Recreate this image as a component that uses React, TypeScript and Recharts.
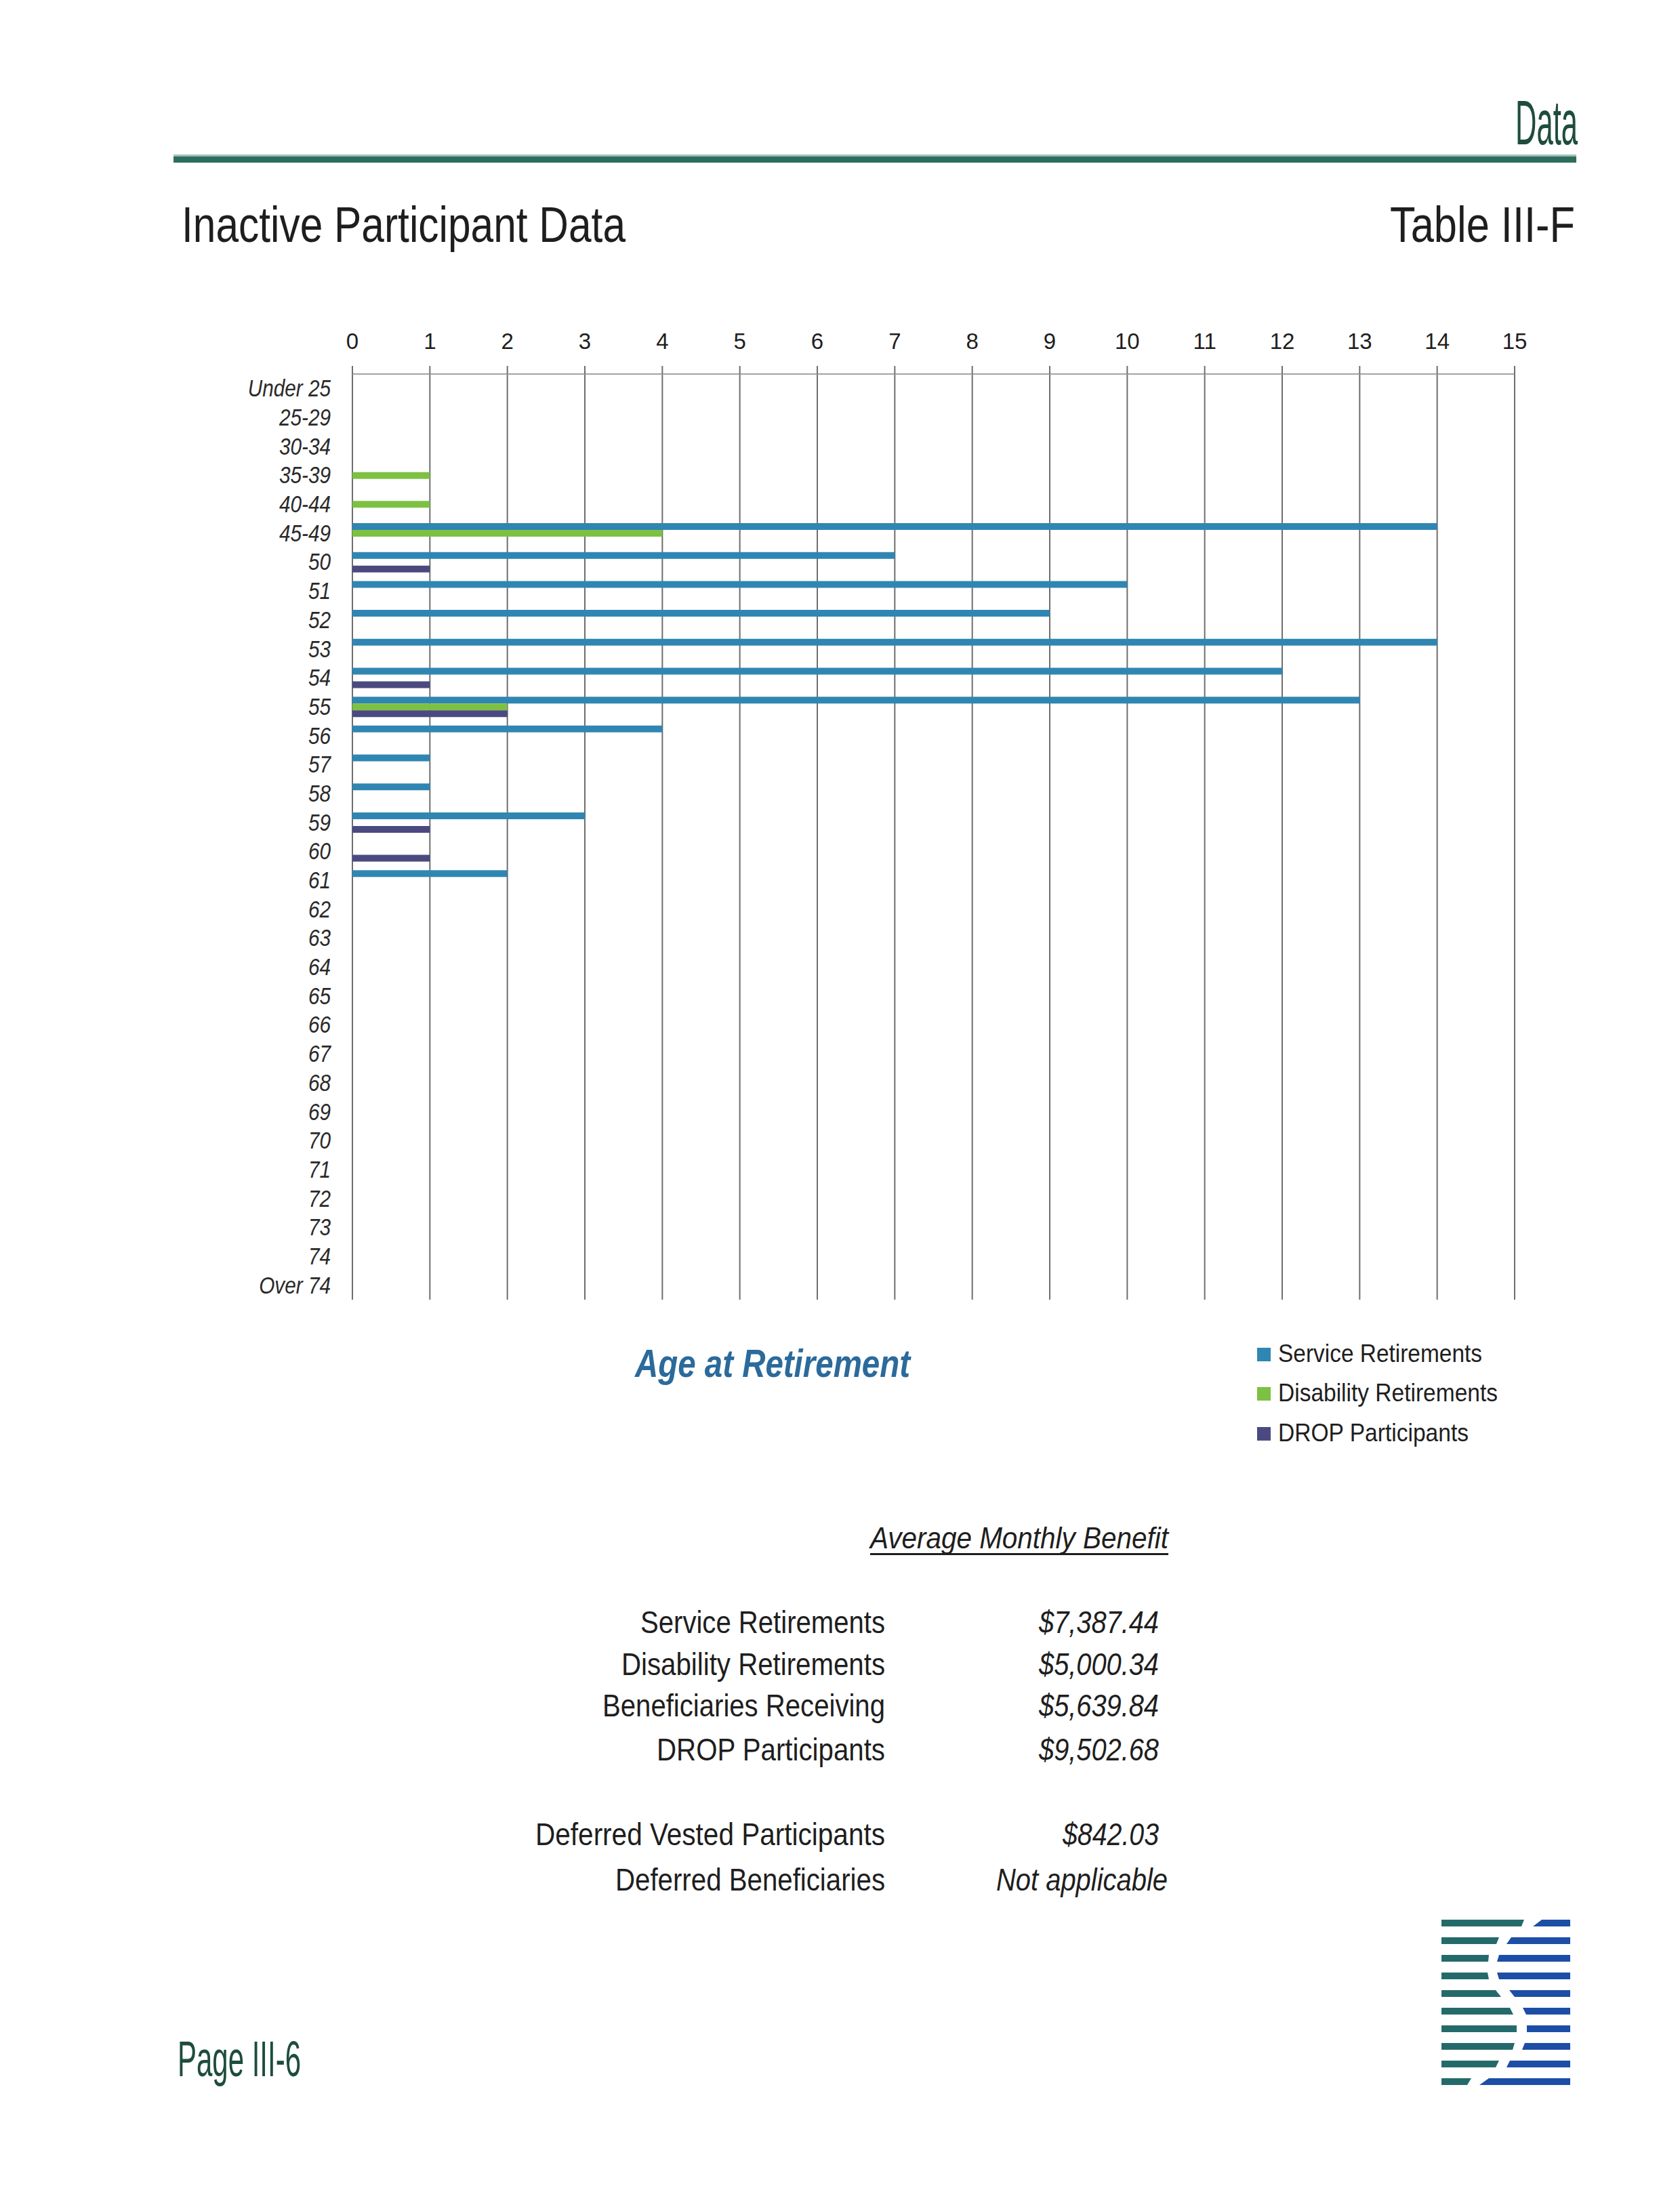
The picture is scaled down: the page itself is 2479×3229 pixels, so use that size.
import React from 'react';
import { BarChart, Bar, XAxis, YAxis, CartesianGrid } from 'recharts';

const ageGroups = [
  'Under 25', '25-29', '30-34', '35-39', '40-44', '45-49',
  '50', '51', '52', '53', '54', '55', '56', '57', '58', '59',
  '60', '61', '62', '63', '64', '65', '66', '67', '68', '69',
  '70', '71', '72', '73', '74', 'Over 74',
];
const serviceRetirements = [0, 0, 0, 0, 0, 14, 7, 10, 9, 14, 12, 13, 4, 1, 1, 3, 0, 2, 0, 0, 0, 0, 0, 0, 0, 0, 0, 0, 0, 0, 0, 0];
const disabilityRetirements = [0, 0, 0, 1, 1, 4, 0, 0, 0, 0, 0, 2, 0, 0, 0, 0, 0, 0, 0, 0, 0, 0, 0, 0, 0, 0, 0, 0, 0, 0, 0, 0];
const dropParticipants = [0, 0, 0, 0, 0, 0, 1, 0, 0, 0, 1, 2, 0, 0, 0, 1, 1, 0, 0, 0, 0, 0, 0, 0, 0, 0, 0, 0, 0, 0, 0, 0];
const xTicks = [0, 1, 2, 3, 4, 5, 6, 7, 8, 9, 10, 11, 12, 13, 14, 15];

const seriesNames = ['Service Retirements', 'Disability Retirements', 'DROP Participants'];
const seriesKeys = ['service', 'disability', 'drop'];

const benefitLabels = ['Service Retirements', 'Disability Retirements', 'Beneficiaries Receiving', 'DROP Participants'];
const benefitValues = ['$7,387.44', '$5,000.34', '$5,639.84', '$9,502.68'];
const deferredLabels = ['Deferred Vested Participants', 'Deferred Beneficiaries'];
const deferredValues = ['$842.03', 'Not applicable'];

const data = ageGroups.map((age, i) => ({
  age,
  service: serviceRetirements[i],
  disability: disabilityRetirements[i],
  drop: dropParticipants[i],
}));

// ---- styling / layout (kept apart from the data) ----
const SANS = "'Liberation Sans', Arial, sans-serif";
const seriesColors = ['#2f86b2', '#7dc143', '#4b4a80'];
const legendLayout = { x: 1886, y: [2010, 2068, 2127], len: [301, 324, 281] };
const benefitLayout = { labelRight: 1306, y: [2410, 2472, 2533, 2598], labelLen: [361, 389, 417, 337], valueRight: 1710, valueLen: [177, 177, 177, 177] };
const deferredLayout = { y: [2723, 2790], labelLen: [516, 398], valueRight: [1710, 1723], valueLen: [142, 253] };
// logo stripes: [tealEndTop, tealEndBottom, blueStartTop, blueStartBottom]
const logoStripes = [
  [2249, 2245, 2275, 2262], [2212, 2208, 2230, 2223], [2197, 2196, 2212, 2209], [2195, 2197, 2209, 2212],
  [2207, 2215, 2227, 2235], [2228, 2233, 2247, 2252], [2238, 2238, 2253, 2253], [2235, 2232, 2250, 2246],
  [2212, 2207, 2228, 2223], [2171, 2165, 2197, 2183],
];

const XTick = (props: any) => {
  const { x, y, payload } = props;
  return (
    <text x={x} y={y} textAnchor="middle" fontFamily={SANS} fontSize={33} fill="#1e1e1e">
      {payload.value}
    </text>
  );
};

const YTick = (props: any) => {
  const { x, y, payload } = props;
  return (
    <text
      transform={`translate(${x},${y + 12}) scale(0.85,1)`}
      textAnchor="end"
      fontFamily={SANS}
      fontSize={35}
      fontStyle="italic"
      fill="#2a2a2a"
    >
      {payload.value}
    </text>
  );
};

export default function App() {
  return (
    <div style={{ position: 'absolute', left: 0, top: 0, width: 2479, height: 3229, background: '#fff' }}>
      <div style={{ position: 'absolute', left: 0, top: 0 }}>
        <BarChart
          layout="vertical"
          width={2479}
          height={2000}
          data={data}
          margin={{ top: 452, right: 244, bottom: 82, left: 0 }}
          barCategoryGap="15.5%"
          barGap={0}
        >
          <CartesianGrid horizontal={false} vertical stroke="#6e6e6e" strokeWidth={2} />
          <XAxis
            type="number"
            orientation="top"
            domain={[0, 15]}
            ticks={xTicks}
            interval={0}
            height={100}
            tickSize={12}
            tickMargin={25}
            axisLine={{ stroke: '#a3a3a3', strokeWidth: 2 }}
            tickLine={{ stroke: '#6e6e6e', strokeWidth: 2 }}
            tick={<XTick />}
          />
          <YAxis
            type="category"
            dataKey="age"
            width={520}
            interval={0}
            axisLine={false}
            tickLine={false}
            tickSize={0}
            tickMargin={32}
            tick={<YTick />}
          />
          {seriesKeys.map((k, i) => (
            <Bar key={k} dataKey={k} name={seriesNames[i]} fill={seriesColors[i]} isAnimationActive={false} />
          ))}
        </BarChart>
      </div>
      <svg
        width={2479}
        height={3229}
        style={{ position: 'absolute', left: 0, top: 0, pointerEvents: 'none' }}
      >
        {/* header */}
        <text x={2236} y={213} fontFamily={SANS} fontSize={92} fill="#1e4d3c" textLength={92} lengthAdjust="spacingAndGlyphs">
          Data
        </text>
        <rect x={256} y={228} width={2070} height={3} fill="#9fbfb4" />
        <rect x={256} y={231} width={2070} height={9} fill="#2e6d5e" />
        <text x={268} y={357} fontFamily={SANS} fontSize={74} fill="#1e1e1e" textLength={655} lengthAdjust="spacingAndGlyphs">
          Inactive Participant Data
        </text>
        <text x={2051} y={357} fontFamily={SANS} fontSize={74} fill="#1e1e1e" textLength={273} lengthAdjust="spacingAndGlyphs">
          Table III-F
        </text>

        {/* axis title */}
        <text
          x={937}
          y={2032}
          fontFamily={SANS}
          fontSize={58}
          fontWeight="bold"
          fontStyle="italic"
          fill="#2b6a9b"
          textLength={406}
          lengthAdjust="spacingAndGlyphs"
        >
          Age at Retirement
        </text>

        {/* legend */}
        {seriesNames.map((n, i) => (
          <g key={n}>
            <rect x={1855} y={legendLayout.y[i] - 21} width={20} height={20} fill={seriesColors[i]} />
            <text
              x={legendLayout.x}
              y={legendLayout.y[i]}
              fontFamily={SANS}
              fontSize={37}
              fill="#1e1e1e"
              textLength={legendLayout.len[i]}
              lengthAdjust="spacingAndGlyphs"
            >
              {n}
            </text>
          </g>
        ))}

        {/* Average Monthly Benefit */}
        <text x={1284} y={2285} fontFamily={SANS} fontSize={45} fontStyle="italic" fill="#1e1e1e" textLength={440} lengthAdjust="spacingAndGlyphs">
          Average Monthly Benefit
        </text>
        <rect x={1284} y={2292} width={440} height={3} fill="#1e1e1e" />
        {benefitLabels.map((l, i) => (
          <g key={l}>
            <text
              x={benefitLayout.labelRight - benefitLayout.labelLen[i]}
              y={benefitLayout.y[i]}
              fontFamily={SANS}
              fontSize={46}
              fill="#1e1e1e"
              textLength={benefitLayout.labelLen[i]}
              lengthAdjust="spacingAndGlyphs"
            >
              {l}
            </text>
            <text
              x={benefitLayout.valueRight - benefitLayout.valueLen[i]}
              y={benefitLayout.y[i]}
              fontFamily={SANS}
              fontSize={46}
              fontStyle="italic"
              fill="#1e1e1e"
              textLength={benefitLayout.valueLen[i]}
              lengthAdjust="spacingAndGlyphs"
            >
              {benefitValues[i]}
            </text>
          </g>
        ))}
        {deferredLabels.map((l, i) => (
          <g key={l}>
            <text
              x={benefitLayout.labelRight - deferredLayout.labelLen[i]}
              y={deferredLayout.y[i]}
              fontFamily={SANS}
              fontSize={46}
              fill="#1e1e1e"
              textLength={deferredLayout.labelLen[i]}
              lengthAdjust="spacingAndGlyphs"
            >
              {l}
            </text>
            <text
              x={deferredLayout.valueRight[i] - deferredLayout.valueLen[i]}
              y={deferredLayout.y[i]}
              fontFamily={SANS}
              fontSize={46}
              fontStyle="italic"
              fill="#1e1e1e"
              textLength={deferredLayout.valueLen[i]}
              lengthAdjust="spacingAndGlyphs"
            >
              {deferredValues[i]}
            </text>
          </g>
        ))}

        {/* footer */}
        <text x={262} y={3064} fontFamily={SANS} fontSize={74} fill="#1e4d3c" textLength={182} lengthAdjust="spacingAndGlyphs">
          Page III-6
        </text>
        {logoStripes.map((s, i) => {
          const top = 2833 + i * 26;
          const bot = top + 10;
          return (
            <g key={i}>
              <polygon points={`2127,${top} ${s[0]},${top} ${s[1]},${bot} 2127,${bot}`} fill="#256a6b" />
              <polygon points={`${s[2]},${top} 2317,${top} 2317,${bot} ${s[3]},${bot}`} fill="#1d4ea6" />
            </g>
          );
        })}
      </svg>
    </div>
  );
}
